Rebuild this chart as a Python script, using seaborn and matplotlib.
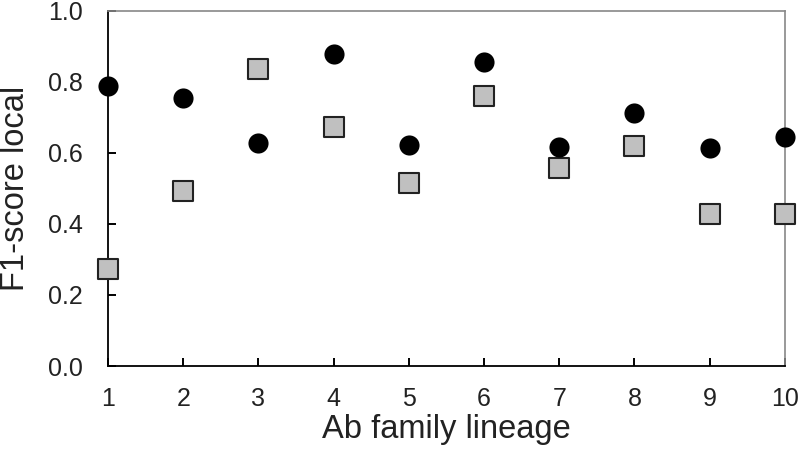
import matplotlib
matplotlib.use("Agg")
import matplotlib.pyplot as plt
import seaborn as sns
import pandas as pd

lineage = [1, 2, 3, 4, 5, 6, 7, 8, 9, 10]
circle_vals = [0.789, 0.755, 0.628, 0.878, 0.621, 0.857, 0.617, 0.713, 0.614, 0.645]
square_vals = [0.273, 0.493, 0.837, 0.674, 0.515, 0.759, 0.557, 0.620, 0.428, 0.428]
yticks = [0.0, 0.2, 0.4, 0.6, 0.8, 1.0]
ytick_labels = ["0.0", "0.2", "0.4", "0.6", "0.8", "1.0"]

sns.set_style("ticks", {"xtick.direction": "in", "ytick.direction": "in"})
plt.rcParams['font.family'] = ['Liberation Sans', 'DejaVu Sans']
plt.rcParams['xtick.major.size'] = 6
plt.rcParams['ytick.major.size'] = 6
plt.rcParams['xtick.major.width'] = 1.4
plt.rcParams['ytick.major.width'] = 1.4

df_c = pd.DataFrame({"x": lineage, "y": circle_vals})
df_s = pd.DataFrame({"x": lineage, "y": square_vals})

fig = plt.figure(figsize=(8, 4.53), dpi=100)
ax = fig.add_axes([0.135, 0.192, 0.846, 0.784])

sns.scatterplot(data=df_s, x="x", y="y", marker="s", s=225, color="#c0c0c0",
                edgecolor="#222222", linewidth=1.5, ax=ax, clip_on=False, zorder=3)
sns.scatterplot(data=df_c, x="x", y="y", marker="o", s=210, color="black",
                edgecolor="black", linewidth=0, ax=ax, clip_on=False, zorder=4)

ax.set_xlim(1, 10)
ax.set_ylim(0, 1.0)
ax.set_xticks(lineage)
ax.set_xticklabels([str(v) for v in lineage])
ax.set_yticks(yticks)
ax.set_yticklabels(ytick_labels)
ax.tick_params(which="major", bottom=True, left=True, top=False, right=False,
               direction="in", length=6, width=1.4, colors="black",
               labelsize=18, labelcolor="#222222")
ax.tick_params(axis="y", pad=18)
ax.tick_params(axis="x", pad=15)
ax.set_xlabel("Ab family lineage", fontsize=23.5, color="#222222", labelpad=2)
ax.set_ylabel("F1-score local", fontsize=23.5, color="#222222", labelpad=12)

for side in ["left", "bottom"]:
    ax.spines[side].set_color("black")
    ax.spines[side].set_linewidth(1.3)
for side in ["top", "right"]:
    ax.spines[side].set_visible(True)
    ax.spines[side].set_color("#888888")
    ax.spines[side].set_linewidth(1.2)

fig.savefig("out.png", dpi=100)
